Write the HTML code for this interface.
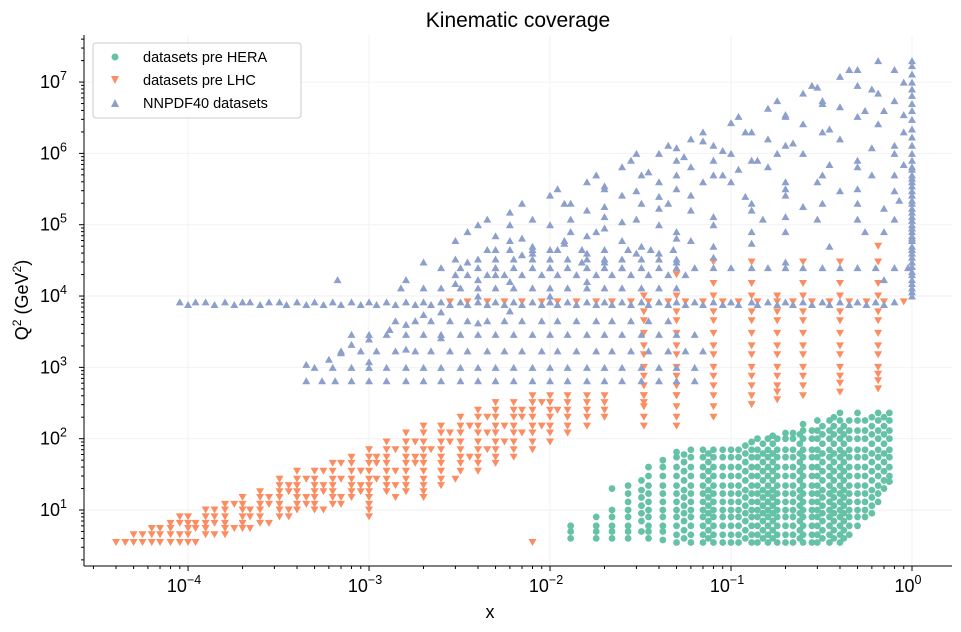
<!DOCTYPE html>
<html><head><meta charset="utf-8">
<style>
body{margin:0;background:#fff;}
svg{display:block;font-family:"Liberation Sans","DejaVu Sans",sans-serif;}
</style></head>
<body>
<svg id="chart" width="961" height="632" viewBox="0 0 961 632">
<text x="518" y="27" text-anchor="middle" font-size="21" fill="#000">Kinematic coverage</text>
<g id="grid"></g>
<g id="marks"></g>
<g id="axes"></g>
<text x="490" y="618" text-anchor="middle" font-size="18">x</text>
<text transform="translate(28,300) rotate(-90)" text-anchor="middle" font-size="18">Q<tspan dy="-7" font-size="12">2</tspan><tspan dy="7"> (GeV</tspan><tspan dy="-7" font-size="12">2</tspan><tspan dy="7">)</tspan></text>
<g>
<rect x="93" y="43" width="208" height="75" rx="3" fill="#fff" fill-opacity="0.85" stroke="#ccc"/>
<g><circle cx="115" cy="57" r="3.5" fill="#66c2a5"/><text x="143" y="62" font-size="14.5">datasets pre HERA</text></g>
<g><path d="M111,76 L119,76 L115,84 Z" fill="#fc8d62"/><text x="143" y="85" font-size="14.5">datasets pre LHC</text></g>
<g><path d="M111,107 L119,107 L115,99 Z" fill="#8da0cb"/><text x="143" y="108" font-size="14.5">NNPDF40 datasets</text></g>
</g>
</svg>
<script>
// ---- data ----
const xTicks = [1e-4, 1e-3, 1e-2, 1e-1, 1];
const xTickExp = ["−4", "−3", "−2", "−1", "0"];
const yTicks = [1e1, 1e2, 1e3, 1e4, 1e5, 1e6, 1e7];
const yTickExp = ["1", "2", "3", "4", "5", "6", "7"];

// green: pre HERA columns [x, [Q2...]]
const greenColumns = [
 [0.013,[4,5,6]],[0.018,[4,5,6,8]],[0.022,[4,5,6,8,10,20]],[0.027,[4,5,6,8,10,13,17,22]],
 [0.035,[4,5,6,8,10,13,17,22,30,40]],[0.042,[3.8,5,6,8,10,13,17,22,30,40,50]],
 [0.05,[3.5,4.5,6,8,10,13,17,22,30,40,55,65]],[0.06,[3.5,4.5,6,8,10,13,17,22,30,40,55,70]],
 [0.07,[3.5,4.5,6,8,10,13,17,22,30,40,55,70]],[0.08,[3.5,4.5,6,8,10,13,17,22,30,40,55,70]],
 [0.09,[3.5,4.5,6,8,10,13,17,22,30,40,55,70]],[0.1,[3.5,4.5,6,8,10,13,17,22,30,40,55,70]],
 [0.11,[3.5,4.5,6,8,10,13,17,22,30,40,55,70]],[0.13,[3.5,4.5,6,8,10,13,17,22,30,40,55,70,90]],
 [0.14,[3.5,4.5,6,8,10,13,17,22,30,40,55,70,100]],[0.16,[3.5,4.5,6,8,10,13,17,22,30,40,55,70,100]],
 [0.18,[3.5,4.5,6,8,10,13,17,22,30,40,55,70,100]],[0.2,[3.5,4.5,6,8,10,13,17,22,30,40,55,70,100,120]],
 [0.22,[3.5,4.5,6,8,10,13,17,22,30,40,55,70,100,120]],[0.25,[3.5,4.5,6,8,10,13,17,22,30,40,55,70,100,130,160]],
 [0.28,[3.5,4.5,6,8,10,13,17,22,30,40,55,70,100,130]],[0.3,[3.5,4.5,6,8,10,13,17,22,30,40,55,70,100,130,180]],
 [0.35,[3.5,4.5,6,8,10,13,17,22,30,40,55,70,100,130,180]],[0.4,[3.5,4.5,6,8,10,13,17,22,30,40,55,70,100,130,180,230]],
 [0.45,[4.5,6,8,10,13,17,22,30,40,55,70,100,130,180]],[0.5,[6,8,10,13,17,22,30,40,55,70,100,130,180,230]],
 [0.55,[8,10,13,17,22,30,40,55,70,100,130,180]],[0.65,[13,17,22,30,40,55,70,100,130,180,230]],
 [0.75,[25,30,40,55,70,100,130,180,230]]
];
// green: extra intermediate columns [x, [Q2...]]
const greenColumns2 = [
 [0.032,[5,7,9,11.5,15,19,26]],[0.055,[4,5.2,7,9,11.5,15,19,26,35,47,60]],
 [0.075,[4,5.2,7,9,11.5,15,19,26,35,47,62]],[0.12,[4,5.2,7,9,11.5,15,19,26,35,47,62,80]],
 [0.15,[4,5.2,7,9,11.5,15,19,26,35,47,62,85]],[0.17,[4,5.2,7,9,11.5,15,19,26,35,47,62,85,110]],
 [0.24,[4,5.2,7,9,11.5,15,19,26,35,47,62,85,115]],[0.32,[4,5.2,7,9,11.5,15,19,26,35,47,62,85,115,150]],
 [0.37,[4,5.2,7,9,11.5,15,19,26,35,47,62,85,115,150,200]],[0.42,[4,5.2,7,9,11.5,15,19,26,35,47,62,85,115,150]],
 [0.6,[9,11.5,15,19,26,35,47,62,85,115,150,200]],[0.7,[20,26,35,47,62,85,115,150,200]]
];

// orange: pre LHC rows [Q2, [x...]]
const orangeRows = [
 [3.5,[4e-5,4.5e-5,5e-5,5.6e-5,6.3e-5,7e-5,8e-5,9e-5,1e-4,1.1e-4,8e-3]],
 [4.5,[5e-5,5.6e-5,6.3e-5,7e-5,8e-5,9e-5,1e-4,1.25e-4,1.4e-4,1.6e-4]],
 [5.5,[6.3e-5,7e-5,8e-5,1e-4,1.1e-4,1.25e-4,1.6e-4,1.8e-4,2e-4,2.2e-4]],
 [6.5,[8e-5,9e-5,1e-4,1.1e-4,1.25e-4,1.4e-4,1.6e-4,2e-4,2.5e-4,2.8e-4]],
 [8,[9e-5,1e-4,1.25e-4,1.4e-4,1.6e-4,2e-4,2.2e-4,2.5e-4,3.2e-4,3.6e-4,1e-3]],
 [10,[1.25e-4,1.4e-4,1.6e-4,2e-4,2.2e-4,2.5e-4,3.2e-4,3.6e-4,4e-4,5e-4,5.6e-4,1e-3]],
 [12,[1.6e-4,1.8e-4,2e-4,2.5e-4,2.8e-4,3.2e-4,4e-4,4.5e-4,5e-4,6.3e-4,7e-4,1e-3]],
 [15,[2e-4,2.5e-4,2.8e-4,3.2e-4,4e-4,4.5e-4,5e-4,6.3e-4,7e-4,8e-4,1e-3,1.4e-3,2e-3]],
 [18,[2.5e-4,3.2e-4,3.6e-4,4e-4,5e-4,5.6e-4,6.3e-4,8e-4,9e-4,1e-3,1.25e-3,1.6e-3,2e-3]],
 [22,[3.2e-4,3.6e-4,4e-4,5e-4,5.6e-4,6.3e-4,8e-4,9e-4,1e-3,1.25e-3,1.4e-3,1.6e-3,2e-3,2.5e-3]],
 [27,[3.2e-4,4e-4,4.5e-4,5e-4,6.3e-4,7e-4,8e-4,1e-3,1.1e-3,1.25e-3,1.6e-3,2e-3,2.5e-3,3e-3]],
 [35,[4e-4,5e-4,5.6e-4,6.3e-4,8e-4,9e-4,1e-3,1.25e-3,1.4e-3,1.6e-3,2e-3,2.5e-3,3.2e-3,4e-3]],
 [45,[6.3e-4,7e-4,8e-4,1e-3,1.1e-3,1.25e-3,1.6e-3,1.8e-3,2e-3,2.5e-3,3.2e-3,4e-3,5e-3]],
 [55,[8e-4,1e-3,1.1e-3,1.25e-3,1.6e-3,1.8e-3,2e-3,2.5e-3,3.2e-3,3.6e-3,4e-3,5e-3,6.3e-3]],
 [70,[1e-3,1.25e-3,1.4e-3,1.6e-3,2e-3,2.2e-3,2.5e-3,3.2e-3,4e-3,4.5e-3,5e-3,6.3e-3,8e-3]],
 [90,[1.25e-3,1.6e-3,1.8e-3,2e-3,2.5e-3,2.8e-3,3.2e-3,4e-3,5e-3,5.6e-3,6.3e-3,8e-3,1e-2]],
 [120,[1.6e-3,2e-3,2.5e-3,2.8e-3,3.2e-3,4e-3,4.5e-3,5e-3,6.3e-3,7e-3,8e-3,1e-2,1.25e-2]],
 [150,[2e-3,2.5e-3,3.2e-3,3.6e-3,4e-3,5e-3,5.6e-3,6.3e-3,8e-3,9e-3,1e-2,1.25e-2,1.6e-2]],
 [200,[3.2e-3,4e-3,4.5e-3,5e-3,6.3e-3,7e-3,8e-3,1e-2,1.25e-2,1.6e-2,2e-2]],
 [250,[4e-3,5e-3,6.3e-3,7e-3,8e-3,1e-2,1.1e-2,1.25e-2,1.6e-2,2e-2]],
 [320,[5e-3,6.3e-3,8e-3,9e-3,1e-2,1.25e-2,1.6e-2,2e-2,3.3e-2]],
 [400,[8e-3,1e-2,1.25e-2,1.6e-2,2e-2,3.3e-2,5e-2]],
 [8300,[2.8e-3,3.5e-3,4.5e-3,5.6e-3,7e-3,9e-3,1.1e-2,1.4e-2,1.8e-2,2.2e-2,2.8e-2,3.5e-2,4.5e-2,5.6e-2,7e-2,9e-2,0.11,0.14,0.18,0.22,0.28,0.35,0.45,0.56,0.7,0.9]]
];
// orange: vertical columns [x, [Q2...]]
const orangeColumns = [
 [0.033,[150,200,280,400,550,750,1000,1500,2000,3000,4500,6000,10000]],
 [0.05,[150,200,280,400,550,750,1000,1500,2000,3000,4500,6000,10000,20000]],
 [0.08,[200,280,400,550,750,1000,1500,2000,3000,4500,6000,10000,15000,30000]],
 [0.13,[300,400,550,750,1000,1500,2000,3000,4500,6000,10000,15000,30000]],
 [0.18,[350,450,550,750,1000,1500,2000,3000,4500,6000,10000]],
 [0.25,[400,550,750,1000,1500,2000,3000,4500,6000,10000,15000,30000]],
 [0.4,[450,600,750,1000,1500,2000,3000,4500,6000,10000,15000,30000]],
 [0.65,[500,650,800,1000,1500,2000,3000,4500,6000,10000,15000,30000,50000]]
];

// blue: NNPDF40 rows [Q2, [x...]]
const blueRows = [
 [650,[4.5e-4,5.5e-4,6.5e-4,8e-4,1e-3,1.25e-3,1.6e-3,2e-3,2.5e-3,3.2e-3,4e-3,5e-3,6.3e-3,8e-3,1e-2,1.25e-2,1.6e-2,2e-2,2.5e-2,3.2e-2,4e-2,5e-2,6.3e-2]],
 [1000,[5e-4,6.3e-4,8e-4,1e-3,1.25e-3,1.6e-3,2e-3,2.5e-3,3.2e-3,4e-3,5e-3,6.3e-3,8e-3,1e-2,1.25e-2,1.6e-2,2e-2,2.5e-2,3.2e-2,4e-2,5e-2,6.3e-2]],
 [1700,[7e-4,9e-4,1.1e-3,1.4e-3,1.8e-3,2.2e-3,2.8e-3,3.5e-3,4.5e-3,5.6e-3,7e-3,9e-3,1.1e-2,1.4e-2,1.8e-2,2.2e-2,2.8e-2,3.5e-2,4.5e-2,5.6e-2,7e-2]],
 [2900,[8e-4,1e-3,1.25e-3,1.6e-3,2e-3,2.5e-3,3.2e-3,4e-3,5e-3,6.3e-3,8e-3,1e-2,1.25e-2,1.6e-2,2e-2,2.5e-2,3.2e-2,4e-2,5e-2,6.3e-2]],
 [4500,[1.4e-3,1.8e-3,2.2e-3,2.8e-3,3.5e-3,4.5e-3,5.6e-3,7e-3,9e-3,1.1e-2,1.4e-2,1.8e-2,2.2e-2,2.8e-2,3.5e-2,4.5e-2]],
 [7600,[1e-4,1.4e-4,1.8e-4,2.5e-4,3.5e-4,4.5e-4,5.6e-4,7e-4,9e-4,1.1e-3,1.4e-3,1.8e-3,2.2e-3,2.8e-3,3.5e-3,4.5e-3,5.6e-3,7e-3,9e-3,1.1e-2,1.4e-2,1.8e-2,2.2e-2,2.8e-2,3.5e-2,4.5e-2,5.6e-2,7e-2,9e-2,0.11,0.14,0.18,0.22,0.28,0.35,0.45,0.56,0.7]],
 [8300,[9e-5,1.1e-4,1.25e-4,1.6e-4,2e-4,2.2e-4,2.8e-4,3.2e-4,4e-4,5e-4,6.3e-4,8e-4,1e-3,1.25e-3,1.6e-3,2e-3,2.5e-3,3.2e-3,4e-3,5e-3,6.3e-3,8e-3,1e-2,1.25e-2,1.6e-2,2e-2,2.5e-2,3.2e-2,4e-2,5e-2,6.3e-2,8e-2,0.1,0.13,0.16,0.2,0.25,0.32,0.4,0.5,0.63,0.8]],
 [13000,[1.5e-3,2e-3,2.5e-3,3.2e-3,4e-3,5e-3,6.3e-3,8e-3,1e-2,1.25e-2,1.6e-2,2e-2,2.5e-2,3.2e-2,4e-2,5e-2]],
 [17000,[6.7e-4,1.6e-3,4e-3,0.7]],
 [20000,[3.5e-3,4.5e-3,5.6e-3,7e-3,9e-3,1.1e-2,1.4e-2,1.8e-2,2.2e-2,2.8e-2,3.5e-2,4.5e-2,5.6e-2]],
 [25000,[2.5e-3,3.2e-3,4e-3,5e-3,6.3e-3,8e-3,1e-2,1.25e-2,1.6e-2,2e-2,2.5e-2,3.2e-2,4e-2,5e-2,6.3e-2,8e-2,0.1,0.13,0.16,0.2,0.25,0.32,0.4,0.5,0.63,0.8,0.95]],
 [33000,[3e-3,4e-3,5e-3,6.3e-3,8e-3,1e-2,1.25e-2,1.6e-2,2e-2,2.5e-2,3.2e-2,4e-2,5e-2]],
 [45000,[4.5e-3,6e-3,8e-3,1.1e-2,1.5e-2,2e-2,2.7e-2,3.6e-2,4.8e-2]]
];
// blue: scattered points [x, Q2]
const bluePoints = [
 [0.002,3e4],[0.003,6e4],[0.004,1e5],[0.006,1.5e5],[0.01,2.6e5],[0.016,4e5],[0.025,6.5e5],[0.04,1e6],[0.06,1.6e6],[0.1,2.7e6],[0.16,4.3e6],[0.25,7e6],[0.3,8.5e6],[0.4,1.2e7],[0.5,1.5e7],[0.65,2e7],
 [0.006,6e4],[0.01,1e5],[0.016,1.6e5],[0.025,2.6e5],[0.04,4e5],[0.06,6.5e5],[0.1,1e6],[0.16,1.6e6],[0.25,2.6e6],[0.4,4.5e6],[0.65,7e6],[0.9,1e7],
 [0.01,4.5e4],[0.016,7e4],[0.025,1.1e5],[0.04,1.7e5],[0.06,2.6e5],[0.1,4e5],[0.16,6.5e5],[0.25,1e6],[0.4,1.6e6],[0.65,2.6e6],[0.9,3.5e6],
 [0.03,4e4],[0.05,6.5e4],[0.08,1e5],[0.13,1.6e5],[0.2,2.6e5],[0.3,4e5],[0.5,6.5e5],[0.8,1e6],
 [0.08,3.5e4],[0.13,5.5e4],[0.2,8e4],[0.3,1.2e5],[0.5,2e5],[0.8,3e5],
 [0.2,3e4],[0.35,5e4],[0.55,8e4],[0.8,1.2e5],
 [0.005,7e4],[0.008,1.2e5],[0.013,2e5],[0.02,3.2e5],[0.032,5e5],[0.05,8e5],[0.08,1.3e6],[0.13,2e6],[0.2,3.3e6],[0.32,5.5e6],[0.5,9e6],[0.8,1.5e7],
 [0.008,5e4],[0.013,8e4],[0.02,1.3e5],[0.032,2e5],[0.05,3.2e5],[0.08,5e5],[0.13,8e5],[0.2,1.3e6],[0.32,2e6],[0.5,3.3e6],[0.8,5.5e6],
 [0.02,3e4],[0.032,5e4],[0.05,8e4],[0.08,1.3e5],[0.13,2e5],[0.2,3.2e5],[0.32,5e5],[0.5,8e5],[0.8,1.3e6],
 [0.05,3e4],[0.08,5e4],[0.13,8e4],[0.2,1.3e5],[0.32,2e5],[0.5,3.2e5],[0.8,5e5],
 [0.0035,8e4],[0.0045,1.2e5],[0.007,2e5],[0.011,3.2e5],[0.018,5e5],[0.028,8e5],[0.045,1.3e6],[0.07,2e6],[0.11,3.3e6],[0.18,5.5e6],[0.28,9e6],[0.45,1.5e7],
 [4.5e-4,1100],[7e-4,1600],[1e-3,2500],[1.6e-3,4000],[2.5e-3,6000],[4e-3,1e4],[6e-3,1.6e4],[1e-2,2.5e4],[1.6e-2,4e4],[2.5e-2,6e4],[4e-2,1e5],[6e-2,1.6e5],
 [1e-3,1200],[1.6e-3,1800],[2.5e-3,2600],[4e-3,4200],[6e-3,6200],[1e-2,1e4],[1.6e-2,1.6e4],[2.5e-2,2.5e4],[4e-2,4e4],[6e-2,6e4],
 [6e-4,1300],[8e-4,2100],[1.3e-3,3400],[2e-3,5500],[3e-3,1.5e4],[5e-3,2.5e4],[7e-3,3.8e4],[1.2e-2,5.5e4],[1.8e-2,8e4],[3e-2,1.2e5],
 [3.5e-3,3e4],[5e-3,4.5e4],[7e-3,6.5e4],[1.3e-2,1.2e5],[2e-2,1.8e5],[3e-2,3e5],[5e-2,5e5],[8e-2,8e5],
 [0.03,1e6],[0.05,1.2e6],[0.07,1.5e6],[0.09,1.1e6],[0.12,2e6],[0.2,3.5e6],[0.32,5e6],
 [0.012,2e5],[0.02,3.5e5],[0.035,5.5e5],[0.055,9e5],[0.09,5e5],[0.14,8e5],[0.22,1.4e6],[0.35,2.2e6],[0.55,4e6],
 [0.04,2.5e5],[0.07,4e5],[0.12,2.5e5],[0.2,4e5],[0.35,7e5],[0.6,1.2e6],[0.15,1.2e5],[0.25,1.8e5],[0.4,3e5],[0.6,5e5],[0.7,8e4],[0.5,1.2e5],
 [3e-3,2e4],[5e-3,2e4],[8e-3,4e4],[1.2e-2,6e4],[2e-2,9e4],[6e-3,1e5],[0.015,3e4],[0.045,2e5],[0.11,6e5],[0.18,1e6],
 [0.7,1.7e5],[0.85,2.2e5],[0.9,7e5],[0.7,4e6],[0.6,8e6],[0.9,2e6]
];
// blue: column at x = 1 [Q2...]
const blueEdgeX = 1;
const blueEdgeQ2 = [1e4,1.15e4,1.3e4,1.5e4,1.7e4,2e4,2.2e4,2.6e4,3e4,3.5e4,4e4,4.5e4,5e4,6e4,6.5e4,7e4,8e4,9e4,1e5,1.15e5,1.3e5,1.5e5,1.7e5,2e5,2.2e5,2.6e5,3e5,3.5e5,4e5,4.5e5,5e5,6e5,6.5e5,8e5,1e6,1.3e6,1.7e6,2.2e6,3e6,4e6,5e6,6.5e6,8e6,1e7,1.3e7,1.7e7,2e7];

// ---- axis functions ----
const L=84,R=952,T=35,B=566;
const X0=-4.575,X1=0.221,Y0=0.215,Y1=7.66;
function sx(v){return L+(Math.log10(v)-X0)/(X1-X0)*(R-L);}
function sy(v){return B-(Math.log10(v)-Y0)/(Y1-Y0)*(B-T);}
const NS="http://www.w3.org/2000/svg";
function mk(tag,attrs,parent){const e=document.createElementNS(NS,tag);for(const k in attrs)e.setAttribute(k,attrs[k]);parent.appendChild(e);return e;}
const grid=document.getElementById('grid'),marks=document.getElementById('marks'),axes=document.getElementById('axes');

// grid
xTicks.forEach(v=>{const l=mk('line',{x1:sx(v),x2:sx(v),y1:T,y2:B,stroke:'#f2f2f2','stroke-width':1},grid);

});
yTicks.forEach(v=>{const l=mk('line',{x1:L,x2:R,y1:sy(v),y2:sy(v),stroke:'#f2f2f2','stroke-width':1},grid);

});

// markers
function circ(x,q,name){const c=mk('circle',{cx:sx(x),cy:sy(q),r:3.4,fill:'#66c2a5'},marks);

}
function tri(x,q,down,color,name){const px=sx(x),py=sy(q);
const d=down?`M${px-4},${py-3.5} L${px+4},${py-3.5} L${px},${py+3.5} Z`:`M${px-4},${py+3.5} L${px+4},${py+3.5} L${px},${py-3.5} Z`;
const p=mk('path',{d:d,fill:color},marks);

}

greenColumns.forEach(([x,qs])=>qs.forEach(q=>circ(x,q,'pre-hera-point')));
greenColumns2.forEach(([x,qs])=>qs.forEach(q=>circ(x,q,'pre-hera-point')));
orangeRows.forEach(([q,xs])=>xs.forEach(x=>tri(x,q,true,'#fc8d62','pre-lhc-point')));
orangeColumns.forEach(([x,qs])=>qs.forEach(q=>tri(x,q,true,'#fc8d62','pre-lhc-point')));
blueRows.forEach(([q,xs])=>xs.forEach(x=>tri(x,q,false,'#8da0cb','nnpdf40-point')));
bluePoints.forEach(([x,q])=>tri(x,q,false,'#8da0cb','nnpdf40-point'));
blueEdgeQ2.forEach(q=>tri(blueEdgeX,q,false,'#8da0cb','nnpdf40-point'));

// axes
let s=mk('line',{x1:L,x2:L,y1:T,y2:B,stroke:'#000','stroke-width':1},axes);


s=mk('line',{x1:L,x2:R,y1:B,y2:B,stroke:'#000','stroke-width':1},axes);



xTicks.forEach((v,i)=>{const x=sx(v);
mk('line',{x1:x,x2:x,y1:B,y2:B+5,stroke:'#000'},axes);
const t=mk('text',{x:x-4,y:B+26,'text-anchor':'middle','font-size':18},axes);


t.innerHTML=`10<tspan dy="-8" font-size="12.5">${xTickExp[i]}</tspan>`;
for(let m=2;m<10;m++){const xm=sx(v*m);if(xm<R&&xm>L)mk('line',{x1:xm,x2:xm,y1:B,y2:B+3,stroke:'#000'},axes);const xm2=sx(v*m/10);if(i===0&&xm2>L)mk('line',{x1:xm2,x2:xm2,y1:B,y2:B+3,stroke:'#000'},axes);}
});
yTicks.forEach((v,i)=>{const y=sy(v);
mk('line',{x1:L-5,x2:L,y1:y,y2:y,stroke:'#000'},axes);
const t=mk('text',{x:L-17,y:y+6,'text-anchor':'end','font-size':18},axes);


t.innerHTML=`10<tspan dy="-8" font-size="12.5">${yTickExp[i]}</tspan>`;
for(let m=2;m<10;m++){const ym=sy(v*m);if(ym>T)mk('line',{x1:L-3,x2:L,y1:ym,y2:ym,stroke:'#000'},axes);const ym2=sy(v*m/10);if(i===0&&ym2<B)mk('line',{x1:L-3,x2:L,y1:ym2,y2:ym2,stroke:'#000'},axes);}
});
</script>
</body></html>
